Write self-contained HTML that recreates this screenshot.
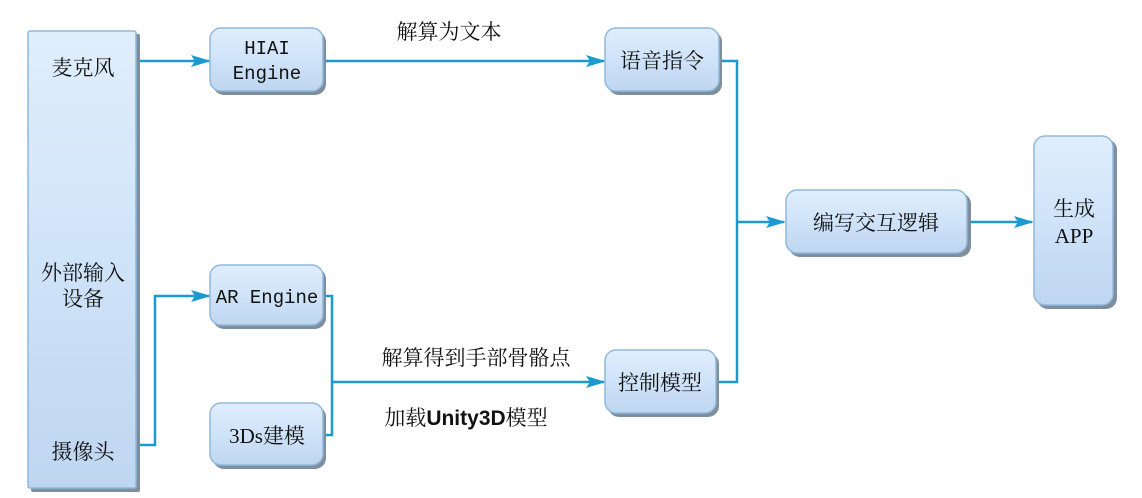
<!DOCTYPE html>
<html><head><meta charset="utf-8"><style>
html,body{margin:0;padding:0;background:#fff;width:1142px;height:498px;overflow:hidden}
text{font-family:"Liberation Serif","Noto Serif CJK SC","Noto Sans CJK SC",serif;font-size:21px;fill:#111}
.m{font-family:"Liberation Mono","Noto Sans CJK SC",monospace;font-size:19px}
.b{font-family:"Liberation Sans","Noto Sans CJK SC",sans-serif;font-weight:bold}
</style></head><body>
<svg width="1142" height="498" xmlns="http://www.w3.org/2000/svg">
<defs>
<linearGradient id="g" x1="0" y1="0" x2="0" y2="1">
<stop offset="0" stop-color="#e0eefc"/><stop offset="0.5" stop-color="#cfe3f9"/><stop offset="1" stop-color="#bfd6f0"/>
</linearGradient>
<marker id="a" markerWidth="20" markerHeight="12" refX="18" refY="6" orient="auto" markerUnits="userSpaceOnUse">
<path d="M0,0 L20,6 L0,12 L4,6 Z" fill="#1b9ad0"/>
</marker>
</defs>
<g stroke="#1b9ad0" stroke-width="2.5" fill="none">
<path d="M138,61 H209" marker-end="url(#a)"/>
<path d="M324,61 H604" marker-end="url(#a)"/>
<path d="M720,61 H737 V382 H716"/>
<path d="M737,222 H784" marker-end="url(#a)"/>
<path d="M968,222 H1032" marker-end="url(#a)"/>
<path d="M138,445 H155 V296 H209" marker-end="url(#a)"/>
<path d="M324,296 H332 V435 H324"/>
<path d="M332,382 H604" marker-end="url(#a)"/>
</g>
<g stroke="#8fb8dc" stroke-width="1.5" fill="url(#g)">
<rect x="31" y="34" width="109" height="458" rx="2" fill="#7f8e9c" stroke="none"/>
<rect x="28" y="31" width="108" height="457" rx="2"/>
<rect x="213" y="31" width="113" height="64" rx="11" fill="#7f8e9c" stroke="none"/>
<rect x="210" y="28" width="113" height="63" rx="11"/>
<rect x="608" y="31" width="114" height="64" rx="11" fill="#7f8e9c" stroke="none"/>
<rect x="605" y="28" width="114" height="63" rx="11"/>
<rect x="213" y="268" width="113" height="61" rx="11" fill="#7f8e9c" stroke="none"/>
<rect x="210" y="265" width="113" height="60" rx="11"/>
<rect x="213" y="406" width="113" height="63" rx="11" fill="#7f8e9c" stroke="none"/>
<rect x="210" y="403" width="113" height="62" rx="11"/>
<rect x="608" y="353" width="111" height="64" rx="11" fill="#7f8e9c" stroke="none"/>
<rect x="605" y="350" width="111" height="63" rx="11"/>
<rect x="789" y="193" width="182" height="64" rx="11" fill="#7f8e9c" stroke="none"/>
<rect x="786" y="190" width="181" height="63" rx="11"/>
<rect x="1037" y="139" width="80" height="170" rx="11" fill="#7f8e9c" stroke="none"/>
<rect x="1034" y="136" width="79" height="169" rx="11"/>
</g>
<text x="83" y="75" text-anchor="middle">麦克风</text>
<text x="83" y="280" text-anchor="middle">外部输入</text>
<text x="83" y="306" text-anchor="middle">设备</text>
<text x="83" y="459" text-anchor="middle">摄像头</text>
<text class="m" x="267" y="54" text-anchor="middle">HIAI</text>
<text class="m" x="267" y="79" text-anchor="middle">Engine</text>
<text x="662" y="68" text-anchor="middle">语音指令</text>
<text class="m" x="267" y="303" text-anchor="middle">AR Engine</text>
<text x="267" y="443" text-anchor="middle">3Ds建模</text>
<text x="660" y="390" text-anchor="middle">控制模型</text>
<text x="876" y="230" text-anchor="middle">编写交互逻辑</text>
<text x="1074" y="216" text-anchor="middle">生成</text>
<text x="1074" y="243" text-anchor="middle">APP</text>
<text x="449" y="39" text-anchor="middle">解算为文本</text>
<text x="476" y="365" text-anchor="middle">解算得到手部骨骼点</text>
<text x="466" y="425" text-anchor="middle">加载<tspan class="b">Unity3D</tspan>模型</text>
</svg>
</body></html>
